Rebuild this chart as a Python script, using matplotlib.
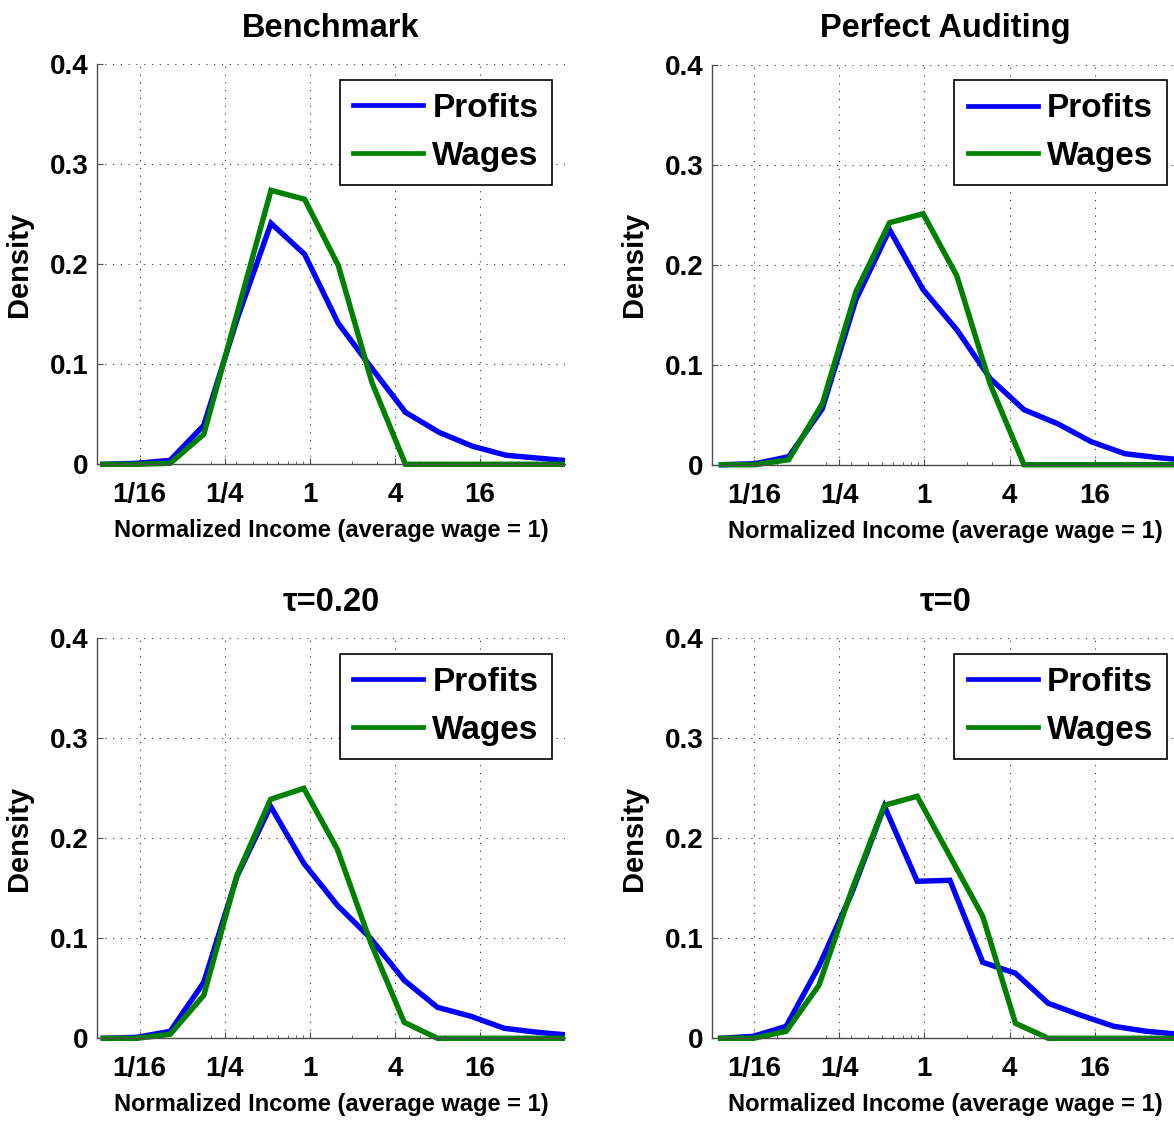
import numpy as np
import matplotlib
matplotlib.use('Agg')
import matplotlib.pyplot as plt
from matplotlib.ticker import FixedLocator, LogLocator, NullFormatter
from matplotlib.transforms import Bbox, TransformedBbox

plt.rcParams['font.family'] = ['Liberation Sans', 'DejaVu Sans']
plt.rcParams['font.weight'] = 'bold'

# ---------------- data ----------------
titles = ['Benchmark', 'Perfect Auditing', 'τ=0.20', 'τ=0']
series_names = ['Profits', 'Wages']

# log2 of normalized income at each bin, per panel
log2_income_bench = [-4.86, -4.07, -3.28, -2.49, -1.70, -0.91, -0.12, 0.67, 1.46, 2.25, 3.04, 3.83, 4.62, 5.41, 6.20]
log2_income_audit = [-4.77, -3.98, -3.19, -2.40, -1.61, -0.82, -0.03, 0.76, 1.55, 2.34, 3.13, 3.92, 4.71, 5.50, 6.29]
log2_income_tau20 = [-4.85, -4.06, -3.28, -2.49, -1.71, -0.92, -0.14, 0.65, 1.43, 2.22, 3.00, 3.79, 4.57, 5.36, 6.14]
log2_income_tau0 = [-4.79, -4.02, -3.25, -2.48, -1.71, -0.94, -0.17, 0.60, 1.37, 2.14, 2.91, 3.68, 4.45, 5.22, 5.99]

profits_bench = [0, 0.001, 0.004, 0.039, 0.146, 0.241, 0.210, 0.141, 0.096, 0.052, 0.032, 0.018, 0.009, 0.006, 0.003]
wages_bench = [0, 0, 0.001, 0.030, 0.152, 0.274, 0.265, 0.199, 0.082, 0, 0, 0, 0, 0, 0]

profits_audit = [0, 0.001, 0.008, 0.056, 0.165, 0.235, 0.175, 0.135, 0.086, 0.055, 0.041, 0.023, 0.011, 0.007, 0.004]
wages_audit = [0, 0, 0.005, 0.061, 0.173, 0.242, 0.251, 0.189, 0.080, 0, 0, 0, 0, 0, 0]

profits_tau20 = [0, 0.001, 0.007, 0.056, 0.162, 0.232, 0.175, 0.133, 0.100, 0.058, 0.031, 0.022, 0.010, 0.006, 0.003]
wages_tau20 = [0, 0, 0.004, 0.043, 0.163, 0.239, 0.250, 0.189, 0.096, 0.016, 0, 0, 0, 0, 0]

profits_tau0 = [0, 0.002, 0.012, 0.072, 0.145, 0.232, 0.157, 0.158, 0.076, 0.065, 0.035, 0.023, 0.012, 0.007, 0.004]
wages_tau0 = [0, 0, 0.007, 0.053, 0.148, 0.233, 0.242, 0.182, 0.122, 0.015, 0, 0, 0, 0, 0]

xtick_values = [1/16, 1/4, 1, 4, 16]
xtick_labels = ['1/16', '1/4', '1', '4', '16']
ytick_values = [0, 0.1, 0.2, 0.3, 0.4]
ytick_labels = ['0', '0.1', '0.2', '0.3', '0.4']
xlabel_text = 'Normalized Income (average wage = 1)'
ylabel_text = 'Density'

panels = [
    (log2_income_bench, profits_bench, wages_bench),
    (log2_income_audit, profits_audit, wages_audit),
    (log2_income_tau20, profits_tau20, wages_tau20),
    (log2_income_tau0, profits_tau0, wages_tau0),
]

# ---------------- layout ----------------
W, H = 1174, 1121
fig = plt.figure(figsize=(W / 100, H / 100), dpi=100)
fig.patch.set_facecolor('white')

boxes = [(97, 64.3, 565, 464.3), (711.7, 64.7, 1179.7, 464.7),
         (97, 638.3, 565, 1038.3), (711.7, 638.3, 1179.7, 1038.3)]

BLUE = (0, 0, 1)
GREEN = (0, 0.5, 0)
AXC = '0.3'

for (l, t, r, b), title, (lx, prof, wag) in zip(boxes, titles, panels):
    ax = fig.add_axes([l / W, 1 - b / H, (r - l) / W, (b - t) / H])
    ax.set_xscale('log', base=2)
    x = np.exp2(np.array(lx))
    clip = TransformedBbox(Bbox([[0, -0.05], [1, 1.0]]), ax.transAxes)
    for vals, col, name in ((prof, BLUE, series_names[0]), (wag, GREEN, series_names[1])):
        ln, = ax.plot(x, vals, color=col, lw=3.9, label=name, solid_joinstyle='miter')
        ln.set_clip_box(clip)
    ax.set_xlim(2 ** -5, 2 ** 6)
    ax.set_ylim(0, 0.4)

    ax.xaxis.set_major_locator(FixedLocator(xtick_values))
    ax.set_xticklabels(xtick_labels)
    ax.xaxis.set_minor_locator(LogLocator(base=10, subs=np.arange(2, 10)))
    ax.xaxis.set_minor_formatter(NullFormatter())
    ax.set_yticks(ytick_values)
    ax.set_yticklabels(ytick_labels)

    ax.grid(True, which='major', linestyle=(0, (1, 6)), lw=0.8, color='0.2')
    for s in ('top', 'right'):
        ax.spines[s].set_visible(False)
    for s in ('left', 'bottom'):
        ax.spines[s].set_color(AXC)
        ax.spines[s].set_linewidth(1.0)

    ax.tick_params(axis='both', which='major', direction='in', length=4, width=0.8,
                   color=AXC, labelcolor='black', labelsize=20)
    ax.tick_params(axis='x', which='major', pad=13)
    ax.tick_params(axis='y', which='major', pad=6)
    ax.tick_params(axis='x', which='minor', direction='in', length=2.5, width=0.6, color=AXC)
    ax.tick_params(top=False, right=False, which='both')
    for lab in ax.get_xticklabels() + ax.get_yticklabels():
        lab.set_fontweight('bold')

    ax.set_title(title, fontsize=23.5, fontweight='bold', pad=20)
    ax.set_xlabel(xlabel_text, fontsize=17, fontweight='bold', labelpad=8)
    ax.set_ylabel(ylabel_text, fontsize=21, fontweight='bold', labelpad=12)

    leg = ax.legend(loc='upper right', bbox_to_anchor=(0.9722, 0.9618), borderaxespad=0,
                    prop={'size': 24, 'weight': 'bold'}, handlelength=2.1,
                    handletextpad=0.28, labelspacing=0.5, borderpad=0.4,
                    fancybox=False, framealpha=1, edgecolor='black')
    leg.get_frame().set_linewidth(1.2)
    for h in leg.get_lines():
        h.set_linewidth(3.4)

fig.savefig('out.png', dpi=100, facecolor='white')
